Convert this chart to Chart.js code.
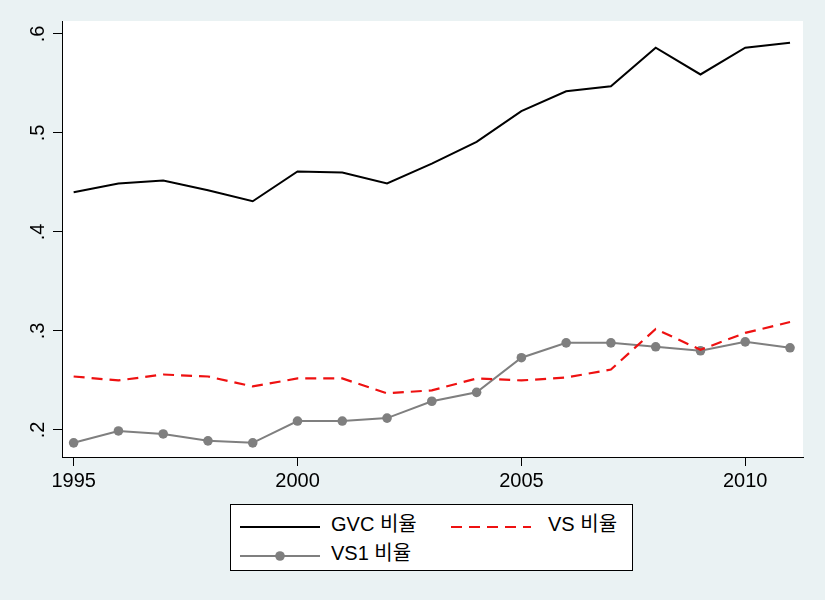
<!DOCTYPE html>
<html>
<head>
<meta charset="utf-8">
<script src="https://cdn.jsdelivr.net/npm/chart.js@4.4.1/dist/chart.umd.min.js"></script>
<style>
    html, body { margin: 0; padding: 0; background: #eaf2f3; }
    #wrap { position: relative; width: 825px; height: 600px; }
    #legend {
        position: absolute; left: 230px; top: 504px; width: 403px; height: 67px;
        box-sizing: border-box; border: 1px solid #000; background: #fff;
        font-family: "Liberation Sans", Arial, "Noto Sans CJK KR", sans-serif; font-size: 20px;
    }
    .sample { position: absolute; }
    .label { position: absolute; line-height: 24px; color: #000; white-space: nowrap; }
</style>
</head>
<body>
<div id="wrap">
    <canvas id="chart" width="825" height="600"></canvas>
    <div id="legend"></div>
</div>
<script>
// years on the x axis
const years = [1995, 1996, 1997, 1998, 1999, 2000, 2001, 2002, 2003, 2004, 2005, 2006, 2007, 2008, 2009, 2010, 2011];

// series values
const gvcShare = [0.440, 0.449, 0.452, 0.442, 0.431, 0.461, 0.460, 0.449, 0.469, 0.491, 0.522, 0.542, 0.547, 0.586, 0.559, 0.586, 0.591];
const vsShare  = [0.254, 0.250, 0.256, 0.254, 0.244, 0.252, 0.252, 0.237, 0.240, 0.252, 0.250, 0.253, 0.261, 0.302, 0.281, 0.298, 0.309];
const vs1Share = [0.187, 0.199, 0.196, 0.189, 0.187, 0.209, 0.209, 0.212, 0.229, 0.238, 0.273, 0.288, 0.288, 0.284, 0.280, 0.289, 0.283];

const seriesNames = ['GVC 비율', 'VS 비율', 'VS1 비율'];

// axis ticks
const xTicks = [1995, 2000, 2005, 2010];
const yTicks = [0.2, 0.3, 0.4, 0.5, 0.6];
const yTickLabels = ['.2', '.3', '.4', '.5', '.6'];

const toPoints = vals => years.map((yr, i) => ({ x: yr, y: vals[i] }));

const tickFont = { family: '"Liberation Sans", Arial, sans-serif', size: 20 };

// white plot region, like the Stata plotregion
const plotBackground = {
    id: 'plotBackground',
    beforeDraw(chart) {
        const { ctx, chartArea: a } = chart;
        ctx.save();
        ctx.fillStyle = '#ffffff';
        ctx.fillRect(a.left, a.top, a.right - a.left, a.bottom - a.top);
        ctx.restore();
    }
};

const chart = new Chart(document.getElementById('chart'), {
    type: 'line',
    data: {
        datasets: [
            {
                label: seriesNames[0],
                data: toPoints(gvcShare),
                borderColor: '#000000',
                borderWidth: 2,
                pointRadius: 0,
                tension: 0
            },
            {
                label: seriesNames[1],
                data: toPoints(vsShare),
                borderColor: '#ee1111',
                borderWidth: 2.2,
                borderDash: [11, 7],
                pointRadius: 0,
                tension: 0
            },
            {
                label: seriesNames[2],
                data: toPoints(vs1Share),
                borderColor: '#7f7f7f',
                backgroundColor: '#7f7f7f',
                borderWidth: 2,
                pointRadius: 4.8,
                pointBorderWidth: 0,
                tension: 0
            }
        ]
    },
    options: {
        responsive: false,
        animation: false,
        layout: { padding: { top: 21, right: 22, left: 0, bottom: 103 } },
        plugins: {
            legend: { display: false },
            tooltip: { enabled: false }
        },
        scales: {
            x: {
                type: 'linear',
                min: 1994.74,
                max: 2011.29,
                afterBuildTicks: axis => { axis.ticks = xTicks.map(v => ({ value: v })); },
                afterFit: axis => { axis.height = 40; },
                grid: { display: true, drawOnChartArea: false, tickLength: 9, tickColor: '#000', tickWidth: 1 },
                border: { display: true, color: '#000', width: 1 },
                ticks: {
                    autoSkip: false,
                    maxRotation: 0,
                    padding: 3,
                    color: '#000',
                    font: tickFont,
                    callback: v => String(v)
                }
            },
            y: {
                type: 'linear',
                min: 0.1727,
                max: 0.613,
                afterBuildTicks: axis => { axis.ticks = yTicks.map(v => ({ value: v })); },
                afterFit: axis => { axis.width = 62; },
                grid: { display: true, drawOnChartArea: false, tickLength: 9, tickColor: '#000', tickWidth: 1 },
                border: { display: true, color: '#000', width: 1 },
                ticks: {
                    autoSkip: false,
                    minRotation: 90,
                    maxRotation: 90,
                    crossAlign: 'center',
                    padding: 6,
                    color: '#000',
                    font: tickFont,
                    callback: v => yTickLabels[yTicks.findIndex(t => Math.abs(t - v) < 1e-9)] ?? ''
                }
            }
        }
    },
    plugins: [plotBackground]
});

// legend laid out like the Stata one: two columns, second row under the first
const legendSlots = [
    { sx: 9, tx: 100, y: 19 },
    { sx: 220, tx: 317, y: 19 },
    { sx: 9, tx: 100, y: 48 }
];
const legendBox = document.getElementById('legend');
chart.data.datasets.forEach((ds, i) => {
    const slot = legendSlots[i];
    const w = 80;
    const dash = ds.borderDash ? `stroke-dasharray="${ds.borderDash.join(' ')}"` : '';
    const dot = ds.pointRadius ? `<circle cx="${w / 2}" cy="7" r="${ds.pointRadius}" fill="${ds.backgroundColor}"/>` : '';
    const sample = document.createElement('div');
    sample.className = 'sample';
    sample.style.left = slot.sx + 'px';
    sample.style.top = (slot.y - 8) + 'px';
    sample.innerHTML = `<svg width="${w}" height="14"><line x1="0" y1="7" x2="${w}" y2="7" stroke="${ds.borderColor}" stroke-width="${ds.borderWidth}" ${dash}/>${dot}</svg>`;
    legendBox.appendChild(sample);

    const label = document.createElement('div');
    label.className = 'label';
    label.style.left = slot.tx + 'px';
    label.style.top = (slot.y - 12) + 'px';
    label.textContent = ds.label;
    legendBox.appendChild(label);
});
</script>
</body>
</html>
